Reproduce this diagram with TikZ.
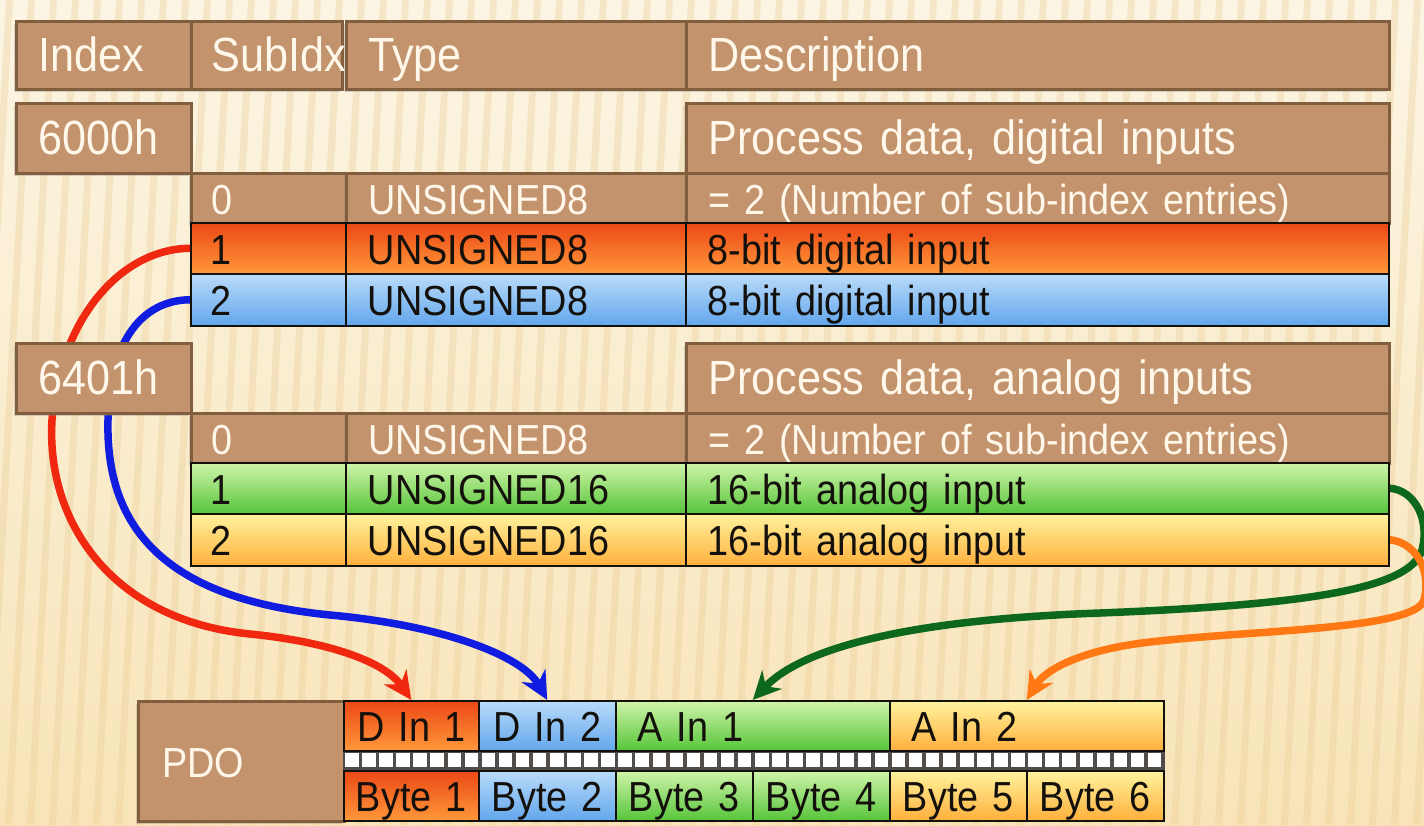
\documentclass[tikz,border=0pt]{standalone}
\usepackage{fontspec}
\setmainfont{Liberation Sans}[FakeStretch=0.9]
\usetikzlibrary{arrows.meta}
\usetikzlibrary{shadows}

\definecolor{tanfill}{RGB}{194,147,108}
\definecolor{tanline}{RGB}{128,94,62}
\definecolor{cream}{RGB}{255,247,234}
\definecolor{ink}{RGB}{20,16,12}
\definecolor{bgtop}{RGB}{252,245,228}
\definecolor{bgbot}{RGB}{248,228,184}
\definecolor{streak}{RGB}{234,204,150}
\definecolor{orTop}{RGB}{236,72,22}
\definecolor{orBot}{RGB}{255,152,58}
\definecolor{blTop}{RGB}{186,220,250}
\definecolor{blBot}{RGB}{98,166,236}
\definecolor{grTop}{RGB}{208,245,170}
\definecolor{grBot}{RGB}{86,196,58}
\definecolor{ylTop}{RGB}{255,243,158}
\definecolor{ylBot}{RGB}{255,176,60}
\definecolor{redlink}{RGB}{240,40,16}
\definecolor{bluelink}{RGB}{16,28,224}
\definecolor{greenlink}{RGB}{14,104,28}
\definecolor{orangelink}{RGB}{255,120,20}

\pgfdeclarelayer{backdrop}
\pgfdeclarelayer{links}
\pgfsetlayers{backdrop,links,main}

\begin{document}
\begin{tikzpicture}[x=1pt, y=-1pt, >={Stealth[length=28pt, width=27pt]},
    cell/.style={anchor=north west, inner xsep=22pt, inner ysep=0pt, align=left,
        text height=36pt, text depth=4pt},
    bigfont/.style={font=\fontsize{48}{56}\selectfont},
    rowfont/.style={font=\fontsize{42}{50}\selectfont},
    browncell/.style={cell, fill=tanfill, draw=tanline, line width=2.5pt, text=cream,
        drop shadow={shadow xshift=-2pt, shadow yshift=-3pt, opacity=0.3}},
    colcell/.style={cell, rowfont, draw=ink, line width=1.5pt, text=ink},
    orangecell/.style={colcell, top color=orTop, bottom color=orBot},
    bluecell/.style={colcell, top color=blTop, bottom color=blBot},
    greencell/.style={colcell, top color=grTop, bottom color=grBot},
    yellowcell/.style={colcell, top color=ylTop, bottom color=ylBot},
    link/.style={->, line width=7.5pt}]

    \useasboundingbox (0,0) rectangle (1424,825);

    % fundo
    \begin{pgfonlayer}{backdrop}
        \shade[top color=bgtop, bottom color=bgbot] (0,0) rectangle (1424,825);
        \foreach \x in {-60,-38,...,1480}
            \fill[streak, opacity=0.35] (\x,0) -- ++(7,0) -- ++(-45,825) -- ++(-7,0) -- cycle;
    \end{pgfonlayer}

    % cabecalho
    \node[browncell, bigfont, minimum height=68pt, text width=131pt] (hIdx) at (15,20) {Index};
    \node[browncell, bigfont, minimum height=68pt, text width=111pt, inner xsep=20pt] (hSub) at (190,20) {SubIdx};
    \node[browncell, bigfont, minimum height=68pt, text width=296pt] (hType) at (345,20) {Type};
    \node[browncell, bigfont, minimum height=68pt, text width=659pt] (hDesc) at (685,20) {Description};

    % objeto 6000h
    \node[browncell, bigfont, minimum height=70pt, text width=131pt] (idxA) at (15,102) {6000h};
    \node[browncell, bigfont, minimum height=70pt, text width=659pt] (titleA) at (685,102) {Process data, digital inputs};
    \node[browncell, rowfont, minimum height=50pt, text width=115pt, inner xsep=20pt] (subA0) at (190,172) {0};
    \node[browncell, rowfont, minimum height=50pt, text width=296pt] (typA0) at (345,172) {UNSIGNED8};
    \node[browncell, rowfont, minimum height=50pt, text width=659pt] (dscA0) at (685,172) {= 2 (Number of sub-index entries)};
    \node[orangecell, minimum height=51pt, text width=115pt, inner xsep=20pt] (subA1) at (190,222) {1};
    \node[orangecell, minimum height=51pt, text width=296pt] (typA1) at (345,222) {UNSIGNED8};
    \node[orangecell, minimum height=51pt, text width=659pt] (dscA1) at (685,222) {8-bit digital input};
    \node[bluecell, minimum height=52pt, text width=115pt, inner xsep=20pt] (subA2) at (190,273) {2};
    \node[bluecell, minimum height=52pt, text width=296pt] (typA2) at (345,273) {UNSIGNED8};
    \node[bluecell, minimum height=52pt, text width=659pt] (dscA2) at (685,273) {8-bit digital input};

    % objeto 6401h
    \node[browncell, bigfont, minimum height=70pt, text width=131pt] (idxB) at (15,342) {6401h};
    \node[browncell, bigfont, minimum height=70pt, text width=659pt] (titleB) at (685,342) {Process data, analog inputs};
    \node[browncell, rowfont, minimum height=50pt, text width=115pt, inner xsep=20pt] (subB0) at (190,412) {0};
    \node[browncell, rowfont, minimum height=50pt, text width=296pt] (typB0) at (345,412) {UNSIGNED8};
    \node[browncell, rowfont, minimum height=50pt, text width=659pt] (dscB0) at (685,412) {= 2 (Number of sub-index entries)};
    \node[greencell, minimum height=51pt, text width=115pt, inner xsep=20pt] (subB1) at (190,462) {1};
    \node[greencell, minimum height=51pt, text width=296pt] (typB1) at (345,462) {UNSIGNED16};
    \node[greencell, minimum height=51pt, text width=659pt] (dscB1) at (685,462) {16-bit analog input};
    \node[yellowcell, minimum height=52pt, text width=115pt, inner xsep=20pt] (subB2) at (190,513) {2};
    \node[yellowcell, minimum height=52pt, text width=296pt] (typB2) at (345,513) {UNSIGNED16};
    \node[yellowcell, minimum height=52pt, text width=659pt] (dscB2) at (685,513) {16-bit analog input};

    % PDO
    \node[browncell, rowfont, minimum height=120pt, text width=158pt, inner xsep=24pt] (pdo) at (137,700) {PDO};
    \node[orangecell, minimum height=50pt, text width=123pt, inner xsep=6pt, align=center] (din1) at (343,700) {D In 1};
    \node[bluecell, minimum height=50pt, text width=125pt, inner xsep=6pt, align=center] (din2) at (478,700) {D In 2};
    \node[greencell, minimum height=50pt, text width=230pt] (ain1) at (615,700) {A In 1};
    \node[yellowcell, minimum height=50pt, text width=230pt] (ain2) at (889,700) {A In 2};
    \node[orangecell, minimum height=50pt, text width=123pt, inner xsep=6pt, align=center] (byte1) at (343,770) {Byte 1};
    \node[bluecell, minimum height=50pt, text width=125pt, inner xsep=6pt, align=center] (byte2) at (478,770) {Byte 2};
    \node[greencell, minimum height=50pt, text width=125pt, inner xsep=6pt, align=center] (byte3) at (615,770) {Byte 3};
    \node[greencell, minimum height=50pt, text width=125pt, inner xsep=6pt, align=center] (byte4) at (752,770) {Byte 4};
    \node[yellowcell, minimum height=50pt, text width=125pt, inner xsep=6pt, align=center] (byte5) at (889,770) {Byte 5};
    \node[yellowcell, minimum height=50pt, text width=125pt, inner xsep=6pt, align=center] (byte6) at (1026,770) {Byte 6};

    % bits
    \fill[ink!75] (din1.south west) rectangle (byte6.north east);
    \foreach \k in {0,...,47}
        \fill[white] ({343+\k*17.083+2},753) rectangle ++(13.5,14);

    % ligacoes
    \begin{pgfonlayer}{links}
        \draw[link, redlink] (subA1.west) .. controls (120,249) and (60,320) .. (52,420)
            .. controls (46,520) and (110,620) .. (250,634)
            .. controls (330,642) and (385,662) .. (din1.north);
        \draw[link, bluelink] (subA2.west) .. controls (150,300) and (110,330) .. (108,420)
            .. controls (105,540) and (180,600) .. (330,615)
            .. controls (440,625) and (522,655) .. (din2.north);
        \draw[link, greenlink] (dscB1.east) .. controls (1415,490) and (1430,520) .. (1422,550)
            .. controls (1410,590) and (1300,605) .. (1100,613)
            .. controls (900,620) and (800,650) .. (ain1.north);
        \draw[link, orangelink] (dscB2.east) .. controls (1415,542) and (1432,570) .. (1424,600)
            .. controls (1415,630) and (1250,630) .. (1150,642)
            .. controls (1080,650) and (1045,670) .. (ain2.north);
    \end{pgfonlayer}

\end{tikzpicture}
\end{document}
